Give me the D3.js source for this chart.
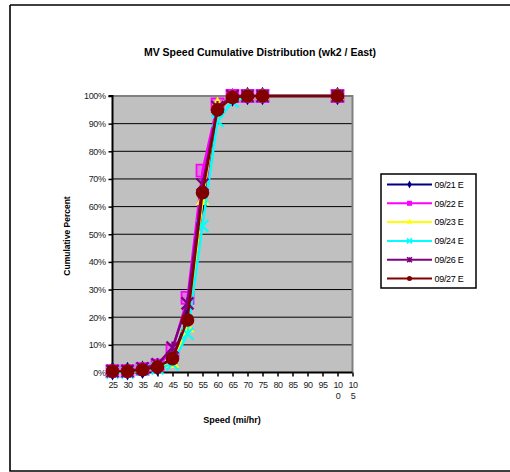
<!DOCTYPE html>
<html>
<head>
<meta charset="utf-8">
<script src="https://cdn.jsdelivr.net/npm/d3@7"></script>
<style>
  html, body { margin: 0; padding: 0; background: #fff; }
  svg { display: block; font-family: Arial, "Liberation Sans", sans-serif; }
</style>
</head>
<body>
<svg id="chart" width="510" height="472"></svg>
<script>
// Speed bins (mi/hr) that carry observations
const speeds = [25, 30, 35, 40, 45, 50, 55, 60, 65, 70, 75, 100];
// Axis tick categories
const tickSpeeds = [25, 30, 35, 40, 45, 50, 55, 60, 65, 70, 75, 80, 85, 90, 95, 100, 105];
const yTicks = [0, 0.1, 0.2, 0.3, 0.4, 0.5, 0.6, 0.7, 0.8, 0.9, 1.0];

// Cumulative share of vehicles at or below each speed, per day
const d0921 = [0.005, 0.005, 0.01, 0.02, 0.05, 0.20, 0.61, 0.96, 0.995, 1.0, 1.0, 1.0];
const d0922 = [0.005, 0.005, 0.012, 0.025, 0.08, 0.27, 0.73, 0.97, 1.0, 1.0, 1.0, 1.0];
const d0923 = [0.0, 0.0, 0.01, 0.02, 0.03, 0.16, 0.62, 0.97, 0.995, 1.0, 1.0, 1.0];
const d0924 = [0.0, 0.0, 0.01, 0.015, 0.03, 0.14, 0.53, 0.91, 0.98, 1.0, 1.0, 1.0];
const d0926 = [0.005, 0.005, 0.015, 0.03, 0.09, 0.25, 0.68, 0.96, 1.0, 1.0, 1.0, 1.0];
const d0927 = [0.005, 0.005, 0.01, 0.02, 0.05, 0.19, 0.65, 0.95, 0.995, 1.0, 1.0, 1.0];

const seriesNames = ["09/21 E", "09/22 E", "09/23 E", "09/24 E", "09/26 E", "09/27 E"];
const seriesValues = [d0921, d0922, d0923, d0924, d0926, d0927];
const seriesColors = ["#000080", "#ff00ff", "#ffff00", "#00ffff", "#800080", "#800000"];
const seriesMarkers = ["diamond", "square", "triangle", "x", "star", "circle"];

const svg = d3.select("#chart");

// Outer chart frame
svg.append("path")
  .attr("d", "M10,5 L520,5 M10,5 L10,471 L520,471")
  .attr("fill", "none").attr("stroke", "#000").attr("stroke-width", 1.6);

const plot = { left: 112.5, right: 352.5, top: 96, bottom: 372.5 };

const x = d3.scaleLinear().domain([25, 105]).range([plot.left, plot.right]);
const y = d3.scaleLinear().domain([0, 1]).range([plot.bottom, plot.top]);

// Plot area background
svg.append("rect")
  .attr("x", plot.left).attr("y", plot.top)
  .attr("width", plot.right - plot.left).attr("height", plot.bottom - plot.top)
  .attr("fill", "#c0c0c0");

// Horizontal gridlines
svg.append("g")
  .selectAll("line")
  .data(yTicks.slice(1, -1))
  .join("line")
  .attr("x1", plot.left).attr("x2", plot.right)
  .attr("y1", d => y(d)).attr("y2", d => y(d))
  .attr("stroke", "#000").attr("stroke-width", 1);

// Plot border on top/right
svg.append("path")
  .attr("d", `M${plot.left},${plot.top} L${plot.right},${plot.top} L${plot.right},${plot.bottom}`)
  .attr("fill", "none").attr("stroke", "#808080").attr("stroke-width", 2);

const tickFont = "Arial, 'Liberation Sans', sans-serif";

// Y axis
const yAxis = d3.axisLeft(y).tickValues(yTicks).tickFormat(d3.format(".0%")).tickSize(4).tickPadding(3);
const gy = svg.append("g").attr("transform", `translate(${plot.left},0)`).call(yAxis);
gy.select(".domain").attr("stroke", "#000").attr("stroke-width", 2).attr("d", `M-4,${plot.top}H0V${plot.bottom}`);
gy.selectAll(".tick line").attr("stroke", "#000").attr("stroke-width", 1.5);
gy.selectAll(".tick text").attr("font-size", 9).attr("fill", "#222").attr("font-family", tickFont).attr("letter-spacing", -0.4);

// X axis
const xAxis = d3.axisBottom(x).tickValues(tickSpeeds).tickSize(4).tickPadding(5).tickFormat(d => d);
const gx = svg.append("g").attr("transform", `translate(0,${plot.bottom})`).call(xAxis);
gx.select(".domain").attr("stroke", "#000").attr("stroke-width", 2).attr("d", `M${plot.left},0H${plot.right}`);
gx.selectAll(".tick line").attr("stroke", "#000").attr("stroke-width", 1.5);
gx.selectAll(".tick text")
  .attr("font-size", 9).attr("fill", "#222").attr("font-family", tickFont).attr("letter-spacing", -0.4)
  .each(function(d) {
    const t = d3.select(this);
    const s = String(d);
    if (s.length > 2) {
      t.text(null);
      t.append("tspan").attr("x", 0).attr("dy", "0.71em").text(s.slice(0, 2));
      t.append("tspan").attr("x", 0).attr("dy", "1.2em").text(s.slice(2));
      t.attr("dy", null);
    }
  });

// Marker shapes
function markerPath(kind, size) {
  const s = size;
  switch (kind) {
    case "diamond": return d3.symbol(d3.symbolDiamond, s * s * 0.7)();
    case "square": return `M${-s/2},${-s/2}H${s/2}V${s/2}H${-s/2}Z`;
    case "triangle": return d3.symbol(d3.symbolTriangle, s * s * 0.55)();
    case "x": { const h = s / 2; return `M${-h},${-h}L${h},${h}M${-h},${h}L${h},${-h}`; }
    case "star": { const h = s / 2; return `M${-h},${-h}L${h},${h}M${-h},${h}L${h},${-h}M0,${-h}V${h}`; }
    case "circle": return d3.symbol(d3.symbolCircle, s * s * 0.8)();
  }
}

const line = d3.line().x(d => x(d[0])).y(d => y(d[1]));

seriesValues.forEach((vals, i) => {
  const pts = speeds.map((s, k) => [s, vals[k]]);
  const g = svg.append("g");
  g.append("path").datum(pts).attr("d", line)
    .attr("fill", "none").attr("stroke", seriesColors[i]).attr("stroke-width", 2.4);
  const kind = seriesMarkers[i];
  const open = kind === "x" || kind === "star";
  g.selectAll("path.m").data(pts).join("path").attr("class", "m")
    .attr("transform", d => `translate(${x(d[0])},${y(d[1])})`)
    .attr("d", markerPath(kind, kind === "circle" ? 13.5 : 12))
    .attr("fill", open ? "none" : seriesColors[i])
    .attr("stroke", seriesColors[i])
    .attr("stroke-width", open ? 2.2 : (kind === "square" ? 1.8 : 0))
    .attr("fill-opacity", kind === "square" ? 0.35 : 1);
});

// Titles
svg.append("text").attr("x", 260).attr("y", 56).attr("text-anchor", "middle")
  .attr("font-size", 10.5).attr("font-weight", "bold").attr("fill", "#000")
  .text("MV Speed Cumulative Distribution (wk2 / East)");
svg.append("text").attr("x", 232).attr("y", 423).attr("text-anchor", "middle")
  .attr("font-size", 9).attr("font-weight", "bold").attr("fill", "#000")
  .text("Speed (mi/hr)");
svg.append("text").attr("transform", "translate(70,236) rotate(-90)").attr("text-anchor", "middle")
  .attr("font-size", 8.5).attr("font-weight", "bold").attr("fill", "#000")
  .text("Cumulative Percent");

// Legend
const legend = svg.append("g");
legend.append("rect").attr("x", 381).attr("y", 174).attr("width", 95).attr("height", 114)
  .attr("fill", "#fff").attr("stroke", "#000").attr("stroke-width", 1.5);
seriesNames.forEach((name, i) => {
  const ly = 184.5 + i * 18.8;
  legend.append("line").attr("x1", 387).attr("x2", 432).attr("y1", ly).attr("y2", ly)
    .attr("stroke", seriesColors[i]).attr("stroke-width", 2);
  const kind = seriesMarkers[i];
  const open = kind === "x" || kind === "star";
  legend.append("path").attr("transform", `translate(409.5,${ly})`)
    .attr("d", markerPath(kind, 5))
    .attr("fill", open ? "none" : seriesColors[i])
    .attr("stroke", seriesColors[i]).attr("stroke-width", open ? 1.5 : 0);
  legend.append("text").attr("x", 434.5).attr("y", ly + 3.2).attr("font-size", 9)
    .attr("fill", "#000").attr("letter-spacing", -0.3).text(name);
});
</script>
</body>
</html>
